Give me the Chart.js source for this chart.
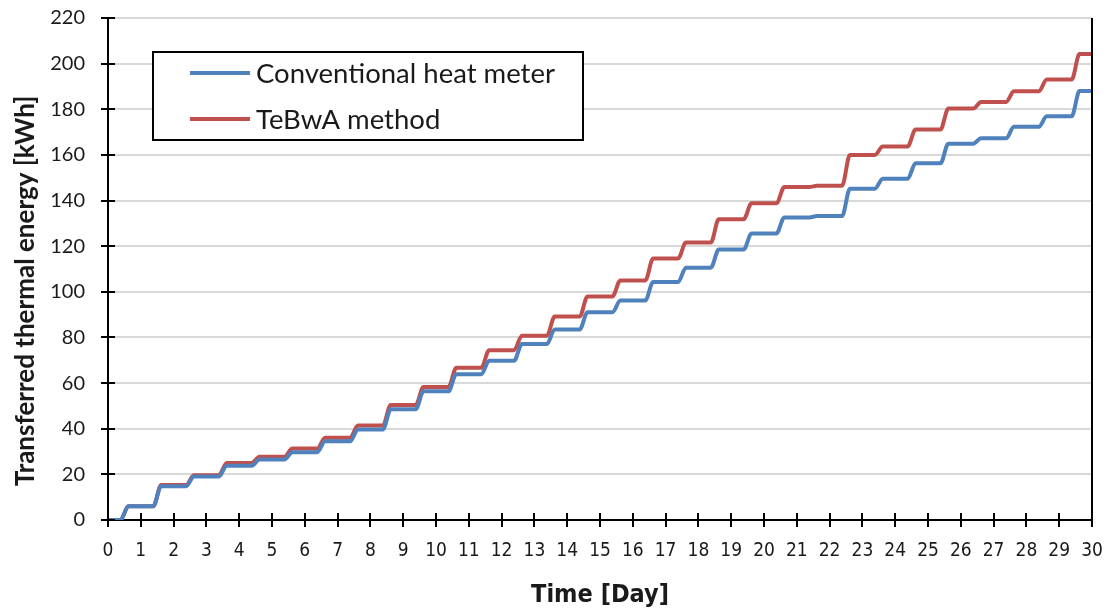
<!DOCTYPE html>
<html><head><meta charset="utf-8">
<script src="https://cdn.jsdelivr.net/npm/chart.js@4/dist/chart.umd.min.js"></script>
<style>html,body{margin:0;padding:0;background:#fff}#wrap{width:1109px;height:610px;position:relative}</style>
</head><body><div id="wrap"><canvas id="c" width="1109" height="610"></canvas></div>
<script>
// Plateau values (value held after each daily step, day index 0..30)
const dayIndex = [0,1,2,3,4,5,6,7,8,9,10,11,12,13,14,15,16,17,18,19,20,21,22,23,24,25,26,27,28,29,30];
const conventionalHeatMeter = [0,6,14.8,19.1,23.8,26.5,29.7,34.5,39.7,48.5,56.4,63.9,69.8,77.1,83.5,91.1,96.2,104.3,110.6,118.5,125.6,132.6,133.2,145.2,149.6,156.3,164.9,167.3,172.3,176.9,188];
const tebwaMethod = [0,6,15.3,19.6,25.0,27.7,31.3,36,41.4,50.4,58.3,66.7,74.4,80.8,89.2,98,105,114.6,121.6,131.8,138.8,145.9,146.5,160,163.7,171.1,180.3,183.2,187.9,193,204.2];
const seriesNames = ['Conventional heat meter','TeBwA method'];
const xTicks = {min:0,max:30,step:1};
const yTicks = {min:0,max:220,step:20};
const xTitle = 'Time [Day]';
const yTitle = 'Transferred thermal energy [kWh]';

// each plateau is held from about 0.62 day into the previous day to 0.38 day into the current one
function stepPoints(vals){
  const pts=[];
  vals.forEach((v,i)=>{
    const d=dayIndex[i];
    const s = i===0 ? 0 : d-1+0.62;
    const e = i===vals.length-1 ? 30 : d+0.38;
    pts.push({x:s,y:v},{x:e,y:v});
  });
  return pts;
}

const BLUE='#4F81BD', RED='#C0504D';

const deco = {
  id:'deco',
  afterDraw(chart){
    const {ctx, chartArea:a, scales:{x,y}} = chart;
    ctx.save();
    ctx.strokeStyle='#000'; ctx.lineWidth=2;
    ctx.beginPath(); ctx.moveTo(a.right,a.top); ctx.lineTo(a.right,a.bottom+1); ctx.stroke();
    ctx.beginPath();
    x.ticks.forEach(t=>{const p=Math.round(x.getPixelForValue(t.value)); ctx.moveTo(p,a.bottom-7); ctx.lineTo(p,a.bottom+7);});
    y.ticks.forEach(t=>{const p=Math.round(y.getPixelForValue(t.value)); ctx.moveTo(a.left-7,p); ctx.lineTo(a.left+7,p);});
    ctx.stroke();
    // y axis title
    ctx.save();
    ctx.translate(26,291); ctx.rotate(-Math.PI/2);
    ctx.fillStyle='#1a1a1a'; ctx.font='bold 26px Lato'; ctx.textAlign='center'; ctx.textBaseline='middle';
    ctx.fillText(yTitle,0,0);
    ctx.restore();
    // legend box
    const L=153,T=52,W=430,H=88;
    ctx.fillStyle='#fff'; ctx.fillRect(L,T,W,H);
    ctx.lineWidth=2; ctx.strokeStyle='#000'; ctx.strokeRect(L,T,W,H);
    chart.data.datasets.forEach((ds,i)=>{
      const yy = T+21+i*46;
      ctx.strokeStyle=ds.borderColor; ctx.lineWidth=4; ctx.lineCap='butt';
      ctx.beginPath(); ctx.moveTo(190,yy); ctx.lineTo(250,yy); ctx.stroke();
      ctx.fillStyle='#1a1a1a'; ctx.font='27.5px Lato'; ctx.textBaseline='middle'; ctx.textAlign='left';
      ctx.fillText(ds.label,256,yy+1);
    });
    ctx.restore();
  }
};

new Chart(document.getElementById('c'),{
  type:'line',
  data:{datasets:[
    {label:seriesNames[0],data:stepPoints(conventionalHeatMeter),borderColor:BLUE,borderWidth:4,pointRadius:0,cubicInterpolationMode:'monotone',fill:false},
    {label:seriesNames[1],data:stepPoints(tebwaMethod),borderColor:RED,borderWidth:4,pointRadius:0,cubicInterpolationMode:'monotone',fill:false}
  ]},
  options:{
    responsive:false,animation:false,
    layout:{padding:{top:18,right:17,left:0,bottom:0}},
    plugins:{legend:{display:false},tooltip:{enabled:false}},
    scales:{
      x:{type:'linear',min:xTicks.min,max:xTicks.max,
        afterFit(s){s.height=90; s.paddingLeft=0; s.paddingRight=0;},
        ticks:{stepSize:xTicks.step,padding:20,maxRotation:0,autoSkip:false,color:'#1a1a1a',font:{family:"'DejaVu Sans Condensed', 'Liberation Sans Narrow', Lato",size:19}},
        grid:{display:false,drawTicks:false},
        border:{color:'#000',width:2},
        title:{display:true,text:xTitle,color:'#1a1a1a',padding:{top:0,bottom:0},font:{family:"'DejaVu Sans Condensed', Lato",size:25,weight:'bold',lineHeight:1.2}}
      },
      y:{min:yTicks.min,max:yTicks.max,
        afterFit(s){s.width=108; s.paddingTop=0; s.paddingBottom=0;},
        ticks:{stepSize:yTicks.step,padding:23,color:'#1a1a1a',font:{family:'Lato',size:20}},
        grid:{color:'#D9D9D9',lineWidth:2,drawTicks:false},
        border:{color:'#000',width:2},
        title:{display:false}
      }
    }
  },
  plugins:[deco]
});
</script></body></html>
